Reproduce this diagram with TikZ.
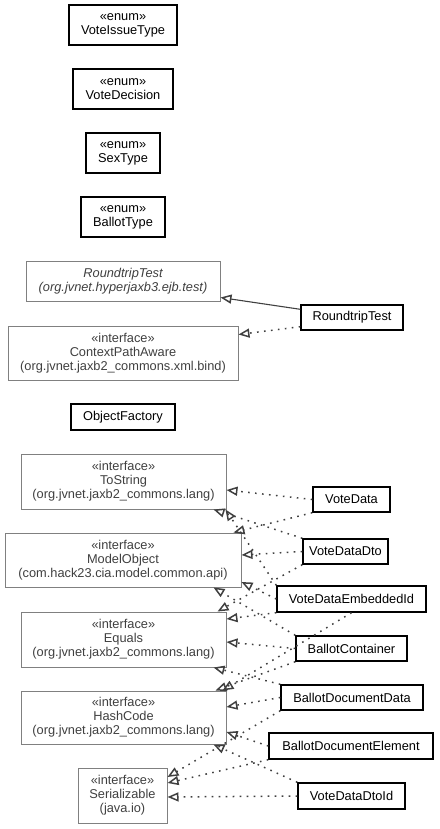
\documentclass[tikz,border=0pt]{standalone}
\usepackage{fontspec}
\setmainfont{Liberation Sans}
\usetikzlibrary{arrows.meta,calc}
\definecolor{libborder}{HTML}{808080}
\definecolor{libtext}{HTML}{404040}
\definecolor{edgecol}{HTML}{404040}
\begin{document}
\begin{tikzpicture}[x=1pt,y=-1pt,
  cls/.style={draw=black, line width=1.4pt, fill=white, inner sep=0pt, align=center,
    font=\fontsize{12.8}{14}\selectfont, text=black},
  lib/.style={draw=libborder, line width=1pt, fill=white, inner sep=0pt, align=center,
    font=\fontsize{12.8}{14}\selectfont, text=libtext},
  tip/.style={-{Triangle[open,length=11pt,width=9pt,line width=1.5pt]}},
  real/.style={draw=edgecol, line width=1.5pt, dash pattern=on 1.6pt off 5.4pt, tip},
  gen/.style={draw=edgecol, line width=1.1pt, tip}]
\useasboundingbox (0,0) rectangle (439,829);

% enums and plain classes
\node[cls, minimum width=108pt, minimum height=40pt] (vit) at (123,25) {«enum»\\VoteIssueType};
\node[cls, minimum width=100pt, minimum height=40pt] (vd) at (123,89) {«enum»\\VoteDecision};
\node[cls, minimum width=74pt, minimum height=40pt] (sex) at (123,153) {«enum»\\SexType};
\node[cls, minimum width=84pt, minimum height=40pt] (bt) at (123,217) {«enum»\\BallotType};
\node[lib, minimum width=194pt, minimum height=40pt, font=\fontsize{12.8}{14}\selectfont\itshape] (rtabs) at (123,281) {RoundtripTest\\(org.jvnet.hyperjaxb3.ejb.test)};
\node[cls, minimum width=102pt, minimum height=25pt] (rt) at (352,317.5) {RoundtripTest};
\node[lib, minimum width=230pt, minimum height=54pt] (cpa) at (123,353) {«interface»\\ContextPathAware\\(org.jvnet.jaxb2\_commons.xml.bind)};
\node[cls, minimum width=104pt, minimum height=26pt] (of) at (123,417) {ObjectFactory};

% interfaces
\node[lib, minimum width=205pt, minimum height=55pt] (ts) at (123.5,481.5) {«interface»\\ToString\\(org.jvnet.jaxb2\_commons.lang)};
\node[lib, minimum width=236pt, minimum height=54pt] (mo) at (123,560) {«interface»\\ModelObject\\(com.hack23.cia.model.common.api)};
\node[lib, minimum width=205pt, minimum height=55pt] (eq) at (123.5,639.5) {«interface»\\Equals\\(org.jvnet.jaxb2\_commons.lang)};
\node[lib, minimum width=205pt, minimum height=53pt] (hc) at (123.5,717.5) {«interface»\\HashCode\\(org.jvnet.jaxb2\_commons.lang)};
\node[lib, minimum width=89pt, minimum height=55pt] (ser) at (122.5,795.5) {«interface»\\Serializable\\(java.io)};

% data classes
\node[cls, minimum width=77pt, minimum height=25pt] (vdata) at (351.5,499.5) {VoteData};
\node[cls, minimum width=85pt, minimum height=25pt] (vdto) at (345.5,551.5) {VoteDataDto};
\node[cls, minimum width=149pt, minimum height=26pt] (vemb) at (351.5,599) {VoteDataEmbeddedId};
\node[cls, minimum width=111pt, minimum height=25pt] (bc) at (351.5,648.5) {BallotContainer};
\node[cls, minimum width=142pt, minimum height=25pt] (bdd) at (352,697.5) {BallotDocumentData};
\node[cls, minimum width=164pt, minimum height=26pt] (bde) at (351,746) {BallotDocumentElement};
\node[cls, minimum width=107pt, minimum height=26pt] (vdid) at (351.5,796) {VoteDataDtoId};

% RoundtripTest
\draw[gen] ($(rt.north west)+(0,5)$) -- ($(rtabs.south east)+(0,-4)$);
\draw[real] ($(rt.south west)+(0,-4)$) -- ($(cpa.north east)+(0,9)$);

% ToString
\draw[real] (vdata.west) -- ($(ts.east)+(0,8.5)$);
\draw[real] (vdto.north west) -- ($(ts.south east)+(-13,0)$);
\draw[real] (vemb.north west) -- ($(ts.south east)+(-1,0)$);
% ModelObject
\draw[real] (vdata.south west) -- ($(mo.north east)+(-8,0)$);
\draw[real] (vdto.west) -- ($(mo.east)+(0,-5)$);
\draw[real] (vemb.west) -- ($(mo.east)+(0,22)$);
\draw[real] (bc.north west) -- ($(mo.south east)+(-28,0)$);
% Equals
\draw[real] (vdto.south west) -- ($(eq.north east)+(-9,0)$);
\draw[real] (vemb.south west) -- ($(eq.east)+(0,-20.5)$);
\draw[real] (bc.west) -- ($(eq.east)+(0,2.5)$);
\draw[real] (bdd.north west) -- ($(eq.south east)+(-13,0)$);
% HashCode
\draw[real] (bc.south west) -- ($(hc.north east)+(-11,0)$);
\draw[real] (vemb.south) -- ($(hc.north east)+(-4,0)$);
\draw[real] (bdd.west) -- ($(hc.east)+(0,-10.5)$);
\draw[real] (bde.west) -- ($(hc.east)+(0,14.5)$);
\draw[real] (vdid.north west) -- ($(hc.south east)+(-13,0)$);
% Serializable
\draw[real] (bdd.south west) -- ($(ser.east)+(0,-18.5)$);
\draw[real] (bde.south west) -- ($(ser.east)+(0,-12.5)$);
\draw[real] (vdid.west) -- ($(ser.east)+(0,1.5)$);
\end{tikzpicture}
\end{document}
